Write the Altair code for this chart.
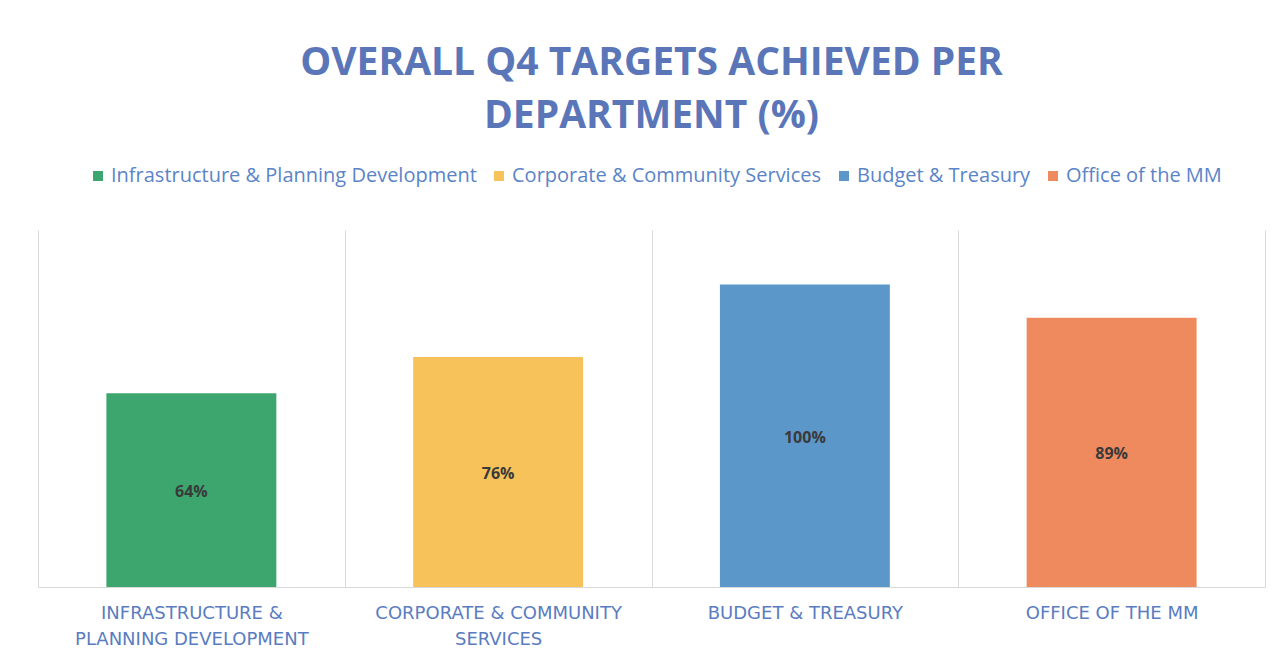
import json
import altair as alt
import pandas as pd

departments = [
    "Infrastructure & Planning Development",
    "Corporate & Community Services",
    "Budget & Treasury",
    "Office of the MM",
]
values = [64, 76, 100, 89]
value_labels = ["64%", "76%", "100%", "89%"]
tick_lines = [
    ["INFRASTRUCTURE &", "PLANNING DEVELOPMENT"],
    ["CORPORATE & COMMUNITY", "SERVICES"],
    ["BUDGET & TREASURY"],
    ["OFFICE OF THE MM"],
]
colors = ["#3ca66e", "#f7c25a", "#5b97c9", "#ef8a5f"]
title_lines = ["OVERALL Q4 TARGETS ACHIEVED PER", "DEPARTMENT (%)"]

df = pd.DataFrame({"department": departments, "value": values, "label": value_labels})

# build multi-line label expression
expr = "''"
for d, ls in reversed(list(zip(departments, tick_lines))):
    expr = f"datum.value == {json.dumps(d)} ? {json.dumps(ls)} : ({expr})"

x_enc = alt.X(
    "department:N",
    sort=departments,
    scale=alt.Scale(paddingInner=0, paddingOuter=0),
    axis=alt.Axis(
        title=None,
        labelAngle=0,
        labelExpr=expr,
        tickBand="extent",
        grid=True,
        gridColor="#d9d9d9",
        gridWidth=1,
        ticks=False,
        domainColor="#d9d9d9",
        labelFont="DejaVu Sans",
        labelFontSize=18,
        labelColor="#5a7cc0",
        labelPadding=17,
        labelLineHeight=26,
        labelLimit=400,
    ),
)

y_scale = alt.Scale(domain=[0, 118])

base = alt.Chart(df).encode(x=x_enc)

bars = base.mark_bar(width=alt.RelativeBandSize(0.554)).encode(
    y=alt.Y("value:Q", scale=y_scale, axis=None),
    color=alt.Color(
        "department:N",
        sort=departments,
        scale=alt.Scale(domain=departments, range=colors),
        legend=alt.Legend(
            title=None,
            orient="none",
            legendX=50,
            legendY=-64,
            direction="horizontal",
            symbolType="square",
            symbolSize=100,
            symbolStrokeWidth=0,
            labelFont="Open Sans",
            labelFontSize=20,
            labelColor="#5b84c8",
            labelOffset=3,
            columnPadding=12,
            labelLimit=500,
        ),
    ),
)

text = base.transform_calculate(mid="datum.value / 2").mark_text(
    font="Open Sans", fontWeight="bold", fontSize=16, color="#3a3a3a", dy=2
).encode(
    y=alt.Y("mid:Q", scale=y_scale, axis=None),
    text="label:N",
)

chart = (
    alt.layer(bars, text)
    .properties(
        width=1227,
        height=357,
        autosize=alt.AutoSizeParams(type="none"),
        padding={"left": 30, "top": 222, "right": 7, "bottom": 70},
        view=alt.ViewBackground(stroke="transparent", strokeWidth=0),
        title=alt.Title(
            title_lines,
            font="Open Sans",
            fontSize=39,
            fontWeight="bold",
            color="#5a76b8",
            lineHeight=53,
            anchor="middle",
            frame="group",
            offset=30,
        ),
    )
    .configure_view(stroke="transparent", strokeWidth=0)
    .configure(background="white")
)

chart.save("out.html", embed_options={"renderer": "svg", "actions": False})
